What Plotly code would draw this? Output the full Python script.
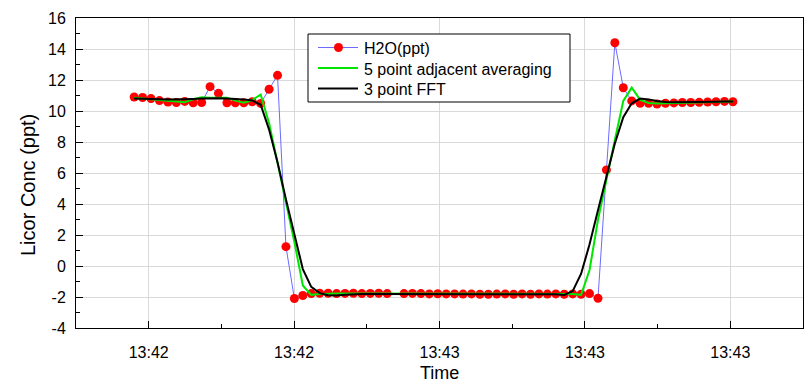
import pandas as pd
import plotly.graph_objects as go

# Sample times (Licor logger, ~1.16 s sampling)
start_time = "2014-06-10 13:42:18"
n_samples = 72
sample_period = "1160ms"

# Raw H2O concentration (ppt); None marks a dropped sample
h2o_ppt = [
    10.9, 10.87, 10.8, 10.67, 10.58, 10.55, 10.62, 10.53, 10.55, 11.57,
    11.14, 10.53, 10.53, 10.53, 10.6, 10.49, 11.4, 12.3, 1.25, -2.1,
    -1.9, -1.78, -1.76, -1.76, -1.78, -1.77, -1.76, -1.78, -1.77, -1.76,
    -1.78, None, -1.78, -1.77, -1.78, -1.8, -1.79, -1.8, -1.8, -1.81,
    -1.8, -1.82, -1.82, -1.81, -1.8, -1.82, -1.8, -1.82, -1.8, -1.81,
    -1.8, -1.82, -1.8, -1.82, -1.78, -2.08, 6.2, 14.4, 11.5, 10.65,
    10.5, 10.5, 10.45, 10.5, 10.52, 10.55, 10.55, 10.56, 10.58, 10.6,
    10.62, 10.6,
]

# 5 point adjacent averaging
avg5_ppt = [
    10.86, 10.81, 10.76, 10.69, 10.64, 10.59, 10.57, 10.76, 10.88, 10.86,
    10.86, 10.86, 10.67, 10.54, 10.71, 11.06, 9.21, 6.67, 4.19, 1.55,
    -1.26, -1.86, -1.80, -1.77, -1.77, -1.77, -1.77, -1.77, -1.77, -1.77,
    -1.77, -1.77, -1.78, -1.78, -1.78, -1.79, -1.79, -1.80, -1.80, -1.81,
    -1.81, -1.81, -1.81, -1.81, -1.81, -1.81, -1.81, -1.81, -1.81, -1.81,
    -1.81, -1.81, -1.80, -1.86, -0.26, 2.98, 5.65, 8.13, 10.65, 11.51,
    10.72, 10.52, 10.49, 10.50, 10.51, 10.54, 10.55, 10.57, 10.58, 10.59,
    10.60, 10.61,
]

# 3 point FFT filter
fft3_ppt = [
    10.8, 10.8, 10.78, 10.76, 10.74, 10.74, 10.76, 10.78, 10.8, 10.82,
    10.82, 10.8, 10.78, 10.75, 10.68, 10.4, 8.8, 6.7, 4.3, 2.0,
    -0.2, -1.35, -1.75, -1.88, -1.9, -1.86, -1.82, -1.8, -1.8, -1.8,
    -1.8, -1.8, -1.8, -1.8, -1.8, -1.81, -1.81, -1.81, -1.81, -1.81,
    -1.81, -1.82, -1.82, -1.82, -1.81, -1.81, -1.81, -1.82, -1.82, -1.82,
    -1.83, -1.87, -1.62, -0.5, 1.4, 3.6, 5.75, 7.9, 9.6, 10.5,
    10.8, 10.75, 10.65, 10.58, 10.56, 10.56, 10.57, 10.58, 10.6, 10.6,
    10.62, 10.62,
]

series_names = ["H2O(ppt)", "5 point adjacent averaging", "3 point FFT"]

y_tick_vals = [-4, -2, 0, 2, 4, 6, 8, 10, 12, 14, 16]
y_tick_text = ["-4", "-2", "0", "2", "4", "6", "8", "10", "12", "14", "16"]

times = pd.date_range(start_time, periods=n_samples, freq=sample_period)
day = start_time.split(" ")[0]

FONT = "Arial, 'Liberation Sans', sans-serif"
RAW_LINE = "#6b6bff"
RAW_MARK = "#ff0000"
GREEN = "#00e600"
BLACK = "#000000"

W, H = 811, 384
M = dict(l=76, r=8, t=18, b=56)
PW, PH = W - M["l"] - M["r"], H - M["t"] - M["b"]


def px(x):
    """Pixel column -> paper x."""
    return (x - M["l"]) / PW


def py(y):
    """Pixel row -> paper y."""
    return (H - M["b"] - y) / PH


fig = go.Figure()
fig.add_trace(go.Scatter(
    x=times, y=h2o_ppt, name=series_names[0], mode="lines+markers",
    connectgaps=True,
    line=dict(color=RAW_LINE, width=1),
    marker=dict(color=RAW_MARK, size=9, line=dict(width=0)),
))
fig.add_trace(go.Scatter(
    x=times, y=avg5_ppt, name=series_names[1], mode="lines",
    line=dict(color=GREEN, width=2),
))
fig.add_trace(go.Scatter(
    x=times, y=fft3_ppt, name=series_names[2], mode="lines",
    line=dict(color=BLACK, width=2),
))

# Boxed key in the upper middle of the plot
shapes = [dict(type="rect", xref="paper", yref="paper",
               x0=px(308), x1=px(570), y0=py(102), y1=py(34),
               line=dict(color="black", width=1), fillcolor="white", layer="above")]
annotations = []
row_y = [47.5, 68, 88.5]
row_colors = [RAW_LINE, GREEN, BLACK]
row_widths = [1, 2, 2]
for name, ry, col, lw in zip(series_names, row_y, row_colors, row_widths):
    shapes.append(dict(type="line", xref="paper", yref="paper",
                       x0=px(318), x1=px(358), y0=py(ry), y1=py(ry),
                       line=dict(color=col, width=lw), layer="above"))
    annotations.append(dict(text=name, xref="paper", yref="paper",
                            x=px(362), y=py(ry + 1), xanchor="left", yanchor="middle",
                            showarrow=False, font=dict(family=FONT, size=16, color="black")))
shapes.append(dict(type="circle", xref="paper", yref="paper",
                   xsizemode="pixel", ysizemode="pixel",
                   xanchor=px(338.5), yanchor=py(row_y[0]),
                   x0=-4.5, x1=4.5, y0=-4.5, y1=4.5,
                   fillcolor=RAW_MARK, line=dict(width=0), layer="above"))

# Axis titles
annotations.append(dict(text="Licor Conc (ppt)", textangle=-90,
                        xref="paper", yref="paper", x=px(28), y=py(185),
                        xanchor="center", yanchor="middle", showarrow=False,
                        font=dict(family=FONT, size=20, color="black")))
annotations.append(dict(text="Time",
                        xref="paper", yref="paper", x=0.5, y=py(384),
                        xanchor="center", yanchor="bottom", showarrow=False,
                        borderpad=0,
                        font=dict(family=FONT, size=18, color="black")))

fig.update_layout(
    width=W, height=H, autosize=False,
    margin=M,
    paper_bgcolor="white", plot_bgcolor="white",
    font=dict(family=FONT, size=16, color="black"),
    showlegend=False,
    shapes=shapes,
    annotations=annotations,
)

fig.update_xaxes(
    type="date",
    range=[f"{day} 13:42:10", f"{day} 13:43:50"],
    tick0=f"{day} 13:42:20", dtick=20000, tickformat="%H:%M",
    ticks="inside", ticklen=7, tickcolor="black", tickwidth=1,
    minor=dict(dtick=10000, ticks="inside", ticklen=4, tickcolor="black", showgrid=False),
    showgrid=True, gridcolor="#d9d9d9", gridwidth=1,
    showline=True, linecolor="black", linewidth=1, mirror=True,
    zeroline=False, automargin=False,
    ticklabelstandoff=10,
    tickfont=dict(family=FONT, size=16, color="black"),
)
fig.update_yaxes(
    range=[-4, 16],
    tickmode="array", tickvals=y_tick_vals, ticktext=y_tick_text,
    ticks="inside", ticklen=7, tickcolor="black", tickwidth=1,
    minor=dict(dtick=1, ticks="inside", ticklen=4, tickcolor="black", showgrid=False),
    showgrid=True, gridcolor="#d9d9d9", gridwidth=1,
    showline=True, linecolor="black", linewidth=1, mirror=True,
    zeroline=False, automargin=False,
    ticklabelstandoff=6,
    tickfont=dict(family=FONT, size=16, color="black"),
)

fig.write_html("out.html")
